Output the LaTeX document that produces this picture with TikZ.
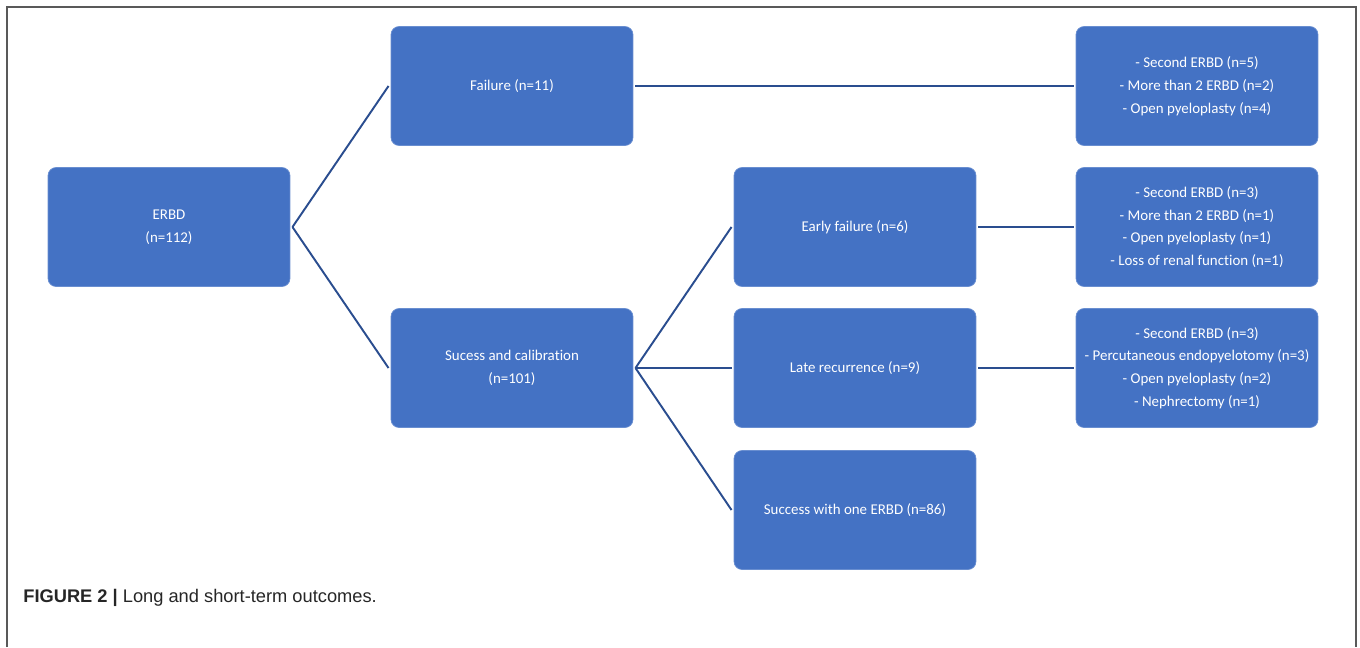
\documentclass[tikz,border=0pt]{standalone}
\usepackage{fontspec}
\setmainfont{Carlito}[Ligatures=NoCommon]
\newfontfamily\capfont{Liberation Sans}
\definecolor{boxblue}{HTML}{4472C4}
\definecolor{linkblue}{HTML}{2A4D8F}
\definecolor{framegray}{gray}{0.35}
\definecolor{captext}{gray}{0.15}
\begin{document}
\begin{tikzpicture}[x=0.02cm,y=-0.02cm,
  box/.style={rectangle, rounded corners=0.16cm, fill=boxblue, draw=boxblue!80!white,
    line width=0.4pt, text=white, minimum width=4.84cm, minimum height=2.38cm,
    align=center, font=\fontsize{8.5}{13}\selectfont, outer sep=0.05cm},
  link/.style={draw=linkblue, line width=1.1pt}]
\useasboundingbox (0,0) rectangle (1360,647);
% frame
\draw[framegray, line width=0.8pt] (7,647) -- (7,7) -- (1356,7) -- (1356,647);
% first column
\node[box] (erbd) at (169,227) {ERBD\\(n=112)};
% second column
\node[box] (failure) at (512,86) {Failure (n=11)};
\node[box] (success) at (512,368) {Sucess and calibration\\(n=101)};
% third column
\node[box] (early) at (855,227) {Early failure (n=6)};
\node[box] (late) at (855,368) {Late recurrence (n=9)};
\node[box] (oneerbd) at (855,510) {Success with one ERBD (n=86)};
% fourth column
\node[box] (failtreat) at (1197,86) {- Second ERBD (n=5)\\- More than 2 ERBD (n=2)\\- Open pyeloplasty (n=4)};
\node[box] (earlytreat) at (1197,227) {- Second ERBD (n=3)\\- More than 2 ERBD (n=1)\\- Open pyeloplasty (n=1)\\- Loss of renal function (n=1)};
\node[box] (latetreat) at (1197,368) {- Second ERBD (n=3)\\- Percutaneous endopyelotomy (n=3)\\- Open pyeloplasty (n=2)\\- Nephrectomy (n=1)};
% connectors
\draw[link] (erbd.east) -- (failure.west);
\draw[link] (erbd.east) -- (success.west);
\draw[link] (failure.east) -- (failtreat.west);
\draw[link] (success.east) -- (early.west);
\draw[link] (success.east) -- (late.west);
\draw[link] (success.east) -- (oneerbd.west);
\draw[link] (early.east) -- (earlytreat.west);
\draw[link] (late.east) -- (latetreat.west);
% caption
\node[anchor=west, inner sep=0pt, text=captext, font=\capfont\fontsize{10.4}{12}\selectfont] (caption) at (23,598)
  {\textbf{FIGURE 2 |} Long and short-term outcomes.};
\end{tikzpicture}
\end{document}
